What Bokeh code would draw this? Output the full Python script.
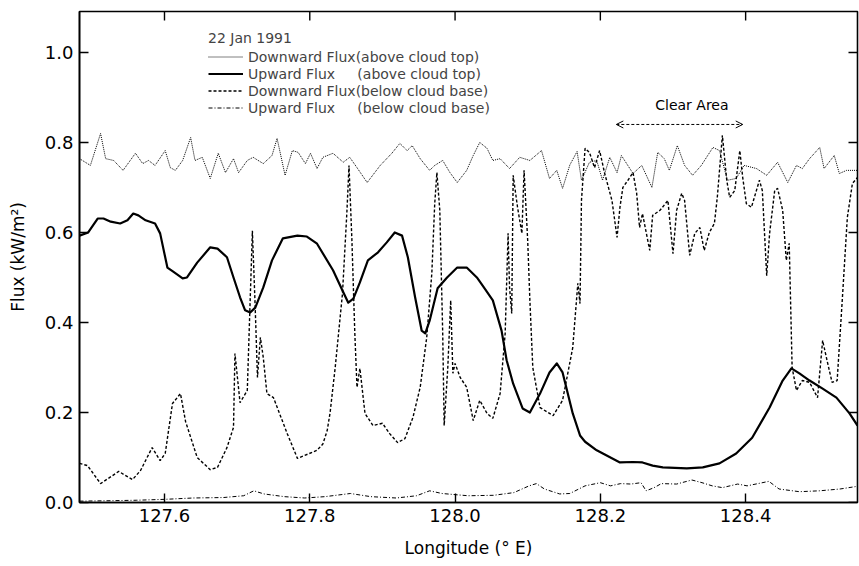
import math
from bokeh.plotting import figure
from bokeh.models import (Range1d, FixedTicker, PrintfTickFormatter,
                          Legend, LegendItem, Label, Arrow, OpenHead)
from bokeh.embed import file_html
from bokeh.resources import INLINE

# ---------------- data ----------------
x_ticks = [127.6, 127.8, 128.0, 128.2, 128.4]
y_ticks = [0.0, 0.2, 0.4, 0.6, 0.8, 1.0]

# Downward Flux (above cloud top)
dn_top_lon = [127.483, 127.498, 127.512, 127.519, 127.530, 127.543, 127.560, 127.570, 127.578, 127.587,
              127.601, 127.608, 127.615, 127.625, 127.636, 127.642, 127.652, 127.663, 127.674, 127.684,
              127.695, 127.702, 127.714, 127.722, 127.736, 127.748, 127.755, 127.766, 127.776, 127.784,
              127.794, 127.801, 127.810, 127.818, 127.832, 127.846, 127.855, 127.865, 127.879, 127.897,
              127.913, 127.924, 127.934, 127.941, 127.952, 127.965, 127.972, 127.983, 127.993, 128.003,
              128.016, 128.025, 128.034, 128.044, 128.052, 128.062, 128.075, 128.089, 128.103, 128.119,
              128.130, 128.140, 128.148, 128.158, 128.168, 128.174, 128.185, 128.195, 128.203, 128.213,
              128.223, 128.229, 128.245, 128.257, 128.271, 128.279, 128.288, 128.295, 128.306, 128.316,
              128.327, 128.339, 128.355, 128.364, 128.375, 128.387, 128.398, 128.415, 128.429, 128.444,
              128.458, 128.470, 128.478, 128.488, 128.502, 128.508, 128.522, 128.529, 128.539, 128.554]
dn_top_flux = [0.764, 0.749, 0.820, 0.764, 0.760, 0.738, 0.776, 0.753, 0.760, 0.749,
               0.782, 0.744, 0.738, 0.760, 0.811, 0.760, 0.767, 0.720, 0.776, 0.733,
               0.764, 0.733, 0.760, 0.767, 0.753, 0.771, 0.809, 0.727, 0.782, 0.778,
               0.753, 0.776, 0.742, 0.767, 0.776, 0.756, 0.767, 0.744, 0.711, 0.749,
               0.776, 0.798, 0.782, 0.793, 0.764, 0.738, 0.749, 0.760, 0.733, 0.711,
               0.738, 0.771, 0.800, 0.787, 0.760, 0.764, 0.742, 0.767, 0.760, 0.782,
               0.720, 0.738, 0.698, 0.750, 0.780, 0.716, 0.756, 0.760, 0.716, 0.767,
               0.733, 0.771, 0.731, 0.749, 0.700, 0.778, 0.764, 0.738, 0.793, 0.749,
               0.727, 0.749, 0.789, 0.782, 0.716, 0.720, 0.749, 0.742, 0.727, 0.756,
               0.711, 0.749, 0.742, 0.764, 0.789, 0.742, 0.771, 0.731, 0.738, 0.738]

# Upward Flux (above cloud top)
up_top_lon = [127.483, 127.495, 127.508, 127.516, 127.526, 127.539, 127.549, 127.557, 127.564, 127.574,
              127.587, 127.594, 127.604, 127.612, 127.625, 127.631, 127.645, 127.663, 127.673, 127.686,
              127.695, 127.704, 127.711, 127.718, 127.725, 127.736, 127.748, 127.763, 127.783, 127.796,
              127.810, 127.832, 127.845, 127.853, 127.860, 127.869, 127.880, 127.894, 127.906, 127.917,
              127.927, 127.935, 127.945, 127.954, 127.959, 127.965, 127.976, 127.989, 128.003, 128.016,
              128.030, 128.038, 128.052, 128.064, 128.071, 128.080, 128.093, 128.103, 128.117, 128.130,
              128.140, 128.148, 128.162, 128.172, 128.179, 128.195, 128.227, 128.245, 128.258, 128.272,
              128.286, 128.319, 128.341, 128.364, 128.387, 128.409, 128.433, 128.451, 128.463, 128.474,
              128.488, 128.506, 128.525, 128.543, 128.554]
up_top_flux = [0.593, 0.600, 0.631, 0.631, 0.624, 0.620, 0.627, 0.642, 0.638, 0.627,
               0.620, 0.598, 0.522, 0.513, 0.498, 0.500, 0.533, 0.567, 0.564, 0.545,
               0.500, 0.456, 0.427, 0.422, 0.433, 0.478, 0.538, 0.587, 0.593, 0.591,
               0.575, 0.516, 0.471, 0.444, 0.453, 0.489, 0.538, 0.556, 0.578, 0.600,
               0.593, 0.545, 0.456, 0.382, 0.376, 0.404, 0.476, 0.500, 0.522, 0.522,
               0.500, 0.482, 0.449, 0.382, 0.316, 0.264, 0.209, 0.200, 0.242, 0.289,
               0.309, 0.289, 0.198, 0.149, 0.135, 0.116, 0.089, 0.090, 0.089, 0.082,
               0.078, 0.076, 0.078, 0.087, 0.109, 0.144, 0.211, 0.271, 0.298, 0.287,
               0.271, 0.253, 0.233, 0.198, 0.171]

# Downward Flux (below cloud base)
dn_base_lon = [127.483, 127.494, 127.512, 127.537, 127.556, 127.567, 127.583, 127.594, 127.601, 127.611,
               127.622, 127.629, 127.645, 127.663, 127.673, 127.686, 127.695, 127.697, 127.704, 127.714,
               127.721, 127.725, 127.728, 127.732, 127.736, 127.741, 127.750, 127.769, 127.783, 127.810,
               127.818, 127.824, 127.828, 127.835, 127.845, 127.851, 127.854, 127.858, 127.862, 127.865,
               127.869, 127.876, 127.887, 127.900, 127.910, 127.921, 127.931, 127.942, 127.952, 127.961,
               127.968, 127.972, 127.975, 127.979, 127.983, 127.985, 127.990, 127.994, 127.997, 128.000,
               128.007, 128.016, 128.025, 128.034, 128.044, 128.052, 128.062, 128.069, 128.073, 128.075,
               128.078, 128.080, 128.086, 128.092, 128.095, 128.100, 128.103, 128.107, 128.117, 128.135,
               128.148, 128.162, 128.169, 128.172, 128.174, 128.179, 128.185, 128.192, 128.199, 128.206,
               128.216, 128.223, 128.227, 128.231, 128.238, 128.245, 128.250, 128.254, 128.258, 128.268,
               128.272, 128.282, 128.293, 128.300, 128.305, 128.312, 128.316, 128.323, 128.330, 128.337,
               128.343, 128.350, 128.357, 128.361, 128.368, 128.374, 128.378, 128.385, 128.392, 128.396,
               128.401, 128.408, 128.419, 128.423, 128.429, 128.433, 128.440, 128.444, 128.451, 128.456,
               128.460, 128.464, 128.470, 128.478, 128.488, 128.499, 128.506, 128.513, 128.519, 128.526,
               128.533, 128.540, 128.547, 128.554]
dn_base_flux = [0.087, 0.082, 0.042, 0.069, 0.051, 0.071, 0.122, 0.093, 0.109, 0.220,
                0.242, 0.180, 0.100, 0.073, 0.078, 0.122, 0.167, 0.331, 0.222, 0.249,
                0.604, 0.427, 0.278, 0.367, 0.322, 0.242, 0.233, 0.153, 0.098, 0.116,
                0.130, 0.160, 0.200, 0.300, 0.464, 0.642, 0.749, 0.582, 0.376, 0.256,
                0.298, 0.198, 0.171, 0.176, 0.153, 0.133, 0.142, 0.189, 0.256, 0.367,
                0.509, 0.664, 0.733, 0.649, 0.376, 0.171, 0.300, 0.449, 0.287, 0.309,
                0.278, 0.256, 0.182, 0.227, 0.198, 0.187, 0.242, 0.376, 0.598, 0.478,
                0.420, 0.727, 0.656, 0.598, 0.738, 0.582, 0.449, 0.300, 0.211, 0.193,
                0.227, 0.344, 0.487, 0.442, 0.671, 0.787, 0.778, 0.744, 0.782, 0.731,
                0.671, 0.589, 0.656, 0.700, 0.716, 0.733, 0.687, 0.611, 0.642, 0.560,
                0.638, 0.649, 0.671, 0.553, 0.649, 0.687, 0.671, 0.549, 0.598, 0.611,
                0.560, 0.600, 0.620, 0.678, 0.816, 0.716, 0.678, 0.693, 0.782, 0.722,
                0.664, 0.656, 0.716, 0.693, 0.504, 0.598, 0.693, 0.698, 0.649, 0.538,
                0.576, 0.300, 0.249, 0.271, 0.267, 0.233, 0.360, 0.309, 0.267, 0.271,
                0.449, 0.633, 0.709, 0.722]

# Upward Flux (below cloud base)
up_base_lon = [127.483, 127.526, 127.561, 127.600, 127.639, 127.681, 127.709, 127.723, 127.737, 127.765,
               127.793, 127.821, 127.856, 127.884, 127.919, 127.947, 127.965, 127.982, 128.018, 128.053,
               128.081, 128.102, 128.112, 128.123, 128.144, 128.158, 128.179, 128.200, 128.214, 128.228,
               128.242, 128.256, 128.263, 128.274, 128.284, 128.305, 128.326, 128.340, 128.354, 128.368,
               128.389, 128.402, 128.432, 128.446, 128.474, 128.502, 128.530, 128.554]
up_base_flux = [0.003, 0.004, 0.005, 0.007, 0.010, 0.011, 0.015, 0.026, 0.019, 0.013,
                0.010, 0.013, 0.020, 0.013, 0.010, 0.015, 0.026, 0.020, 0.015, 0.016,
                0.022, 0.037, 0.042, 0.030, 0.019, 0.020, 0.037, 0.044, 0.037, 0.042,
                0.041, 0.044, 0.026, 0.033, 0.042, 0.041, 0.050, 0.044, 0.037, 0.033,
                0.041, 0.037, 0.047, 0.030, 0.024, 0.026, 0.030, 0.036]

NB = "\u00a0"
series_labels = ["Downward Flux(above" + NB + "cloud" + NB + "top)",
                 "Upward Flux" + NB * 5 + "(above" + NB + "cloud" + NB + "top)",
                 "Downward Flux(below" + NB + "cloud" + NB + "base)",
                 "Upward Flux" + NB * 5 + "(below" + NB + "cloud" + NB + "base)"]
legend_title = "22 Jan 1991"
clear_area_lon = [128.222, 128.396]
clear_area_flux = 0.84
clear_area_text = "Clear Area"

# ---------------- figure ----------------
FONT = "DejaVu Sans"
x_lo, x_hi = 127.483, 128.554
y_lo, y_hi = 0.0, 1.091

p = figure(width=859, height=566, output_backend="svg", toolbar_location=None,
           x_range=Range1d(x_lo, x_hi), y_range=Range1d(y_lo, y_hi),
           min_border_left=79, min_border_right=2, min_border_top=11, min_border_bottom=64,
           x_axis_label="Longitude (\u00b0 E)", y_axis_label="Flux (kW/m\u00b2)")
p.grid.visible = False
p.outline_line_color = "black"
p.outline_line_width = 1.6
p.background_fill_color = "white"
p.border_fill_color = "white"

for ax, ticks in ((p.xaxis[0], x_ticks), (p.yaxis[0], y_ticks)):
    ax.ticker = FixedTicker(ticks=ticks)
    ax.formatter = PrintfTickFormatter(format="%.1f")
    ax.axis_line_color = "black"
    ax.axis_line_width = 1.6
    ax.major_tick_line_color = "black"
    ax.major_tick_line_width = 1.4
    ax.major_tick_in = 9
    ax.major_tick_out = 0
    ax.minor_tick_line_color = None
    ax.major_label_text_font = FONT
    ax.major_label_text_font_size = "18px"
    ax.major_label_text_color = "black"
    ax.axis_label_text_font = FONT
    ax.axis_label_text_font_size = "17px"
    ax.axis_label_text_font_style = "normal"
    ax.axis_label_text_color = "black"

p.xaxis[0].major_label_standoff = 6
p.xaxis[0].axis_label_standoff = 13
p.yaxis[0].major_label_standoff = 6
p.yaxis[0].axis_label_standoff = 14

# inward ticks on the top and right frame edges (mirror of the bottom / left ticks)
p.ray(x=x_ticks, y=[y_hi] * len(x_ticks), length=9, length_units="screen",
      angle=-math.pi / 2, line_color="black", line_width=1.4)
p.ray(x=[x_hi] * len(y_ticks), y=y_ticks, length=9, length_units="screen",
      angle=math.pi, line_color="black", line_width=1.4)

r1 = p.line(dn_top_lon, dn_top_flux, line_color="black", line_width=1.0, line_dash="1 1")
r2 = p.line(up_top_lon, up_top_flux, line_color="black", line_width=2.2, line_join="round")
r3 = p.line(dn_base_lon, dn_base_flux, line_color="black", line_width=1.4, line_dash="3 2")
r4 = p.line(up_base_lon, up_base_flux, line_color="black", line_width=1.0, line_dash="4 2 1 2")

legend = Legend(items=[LegendItem(label=series_labels[0], renderers=[r1]),
                       LegendItem(label=series_labels[1], renderers=[r2]),
                       LegendItem(label=series_labels[2], renderers=[r3]),
                       LegendItem(label=series_labels[3], renderers=[r4])],
                location=(129, 386), title=legend_title,
                title_text_font=FONT, title_text_font_size="14px", title_text_font_style="normal",
                title_standoff=2,
                label_text_font=FONT, label_text_font_size="14px",
                glyph_width=35, glyph_height=17, label_height=17, label_standoff=5,
                spacing=0, padding=0, margin=0,
                border_line_color=None, background_fill_alpha=0)
p.add_layout(legend)

p.add_layout(Label(x=sum(clear_area_lon) / 2 + 0.017, y=clear_area_flux + 0.044, text=clear_area_text,
                   text_align="center", text_baseline="middle", text_font=FONT,
                   text_font_size="14px", text_color="black"))
p.add_layout(Arrow(start=OpenHead(size=7, line_width=1), end=OpenHead(size=7, line_width=1),
                   x_start=clear_area_lon[0], y_start=clear_area_flux,
                   x_end=clear_area_lon[1], y_end=clear_area_flux,
                   line_dash="3 2", line_width=1, line_color="black"))

open("out.html", "w").write(file_html(p, INLINE))
